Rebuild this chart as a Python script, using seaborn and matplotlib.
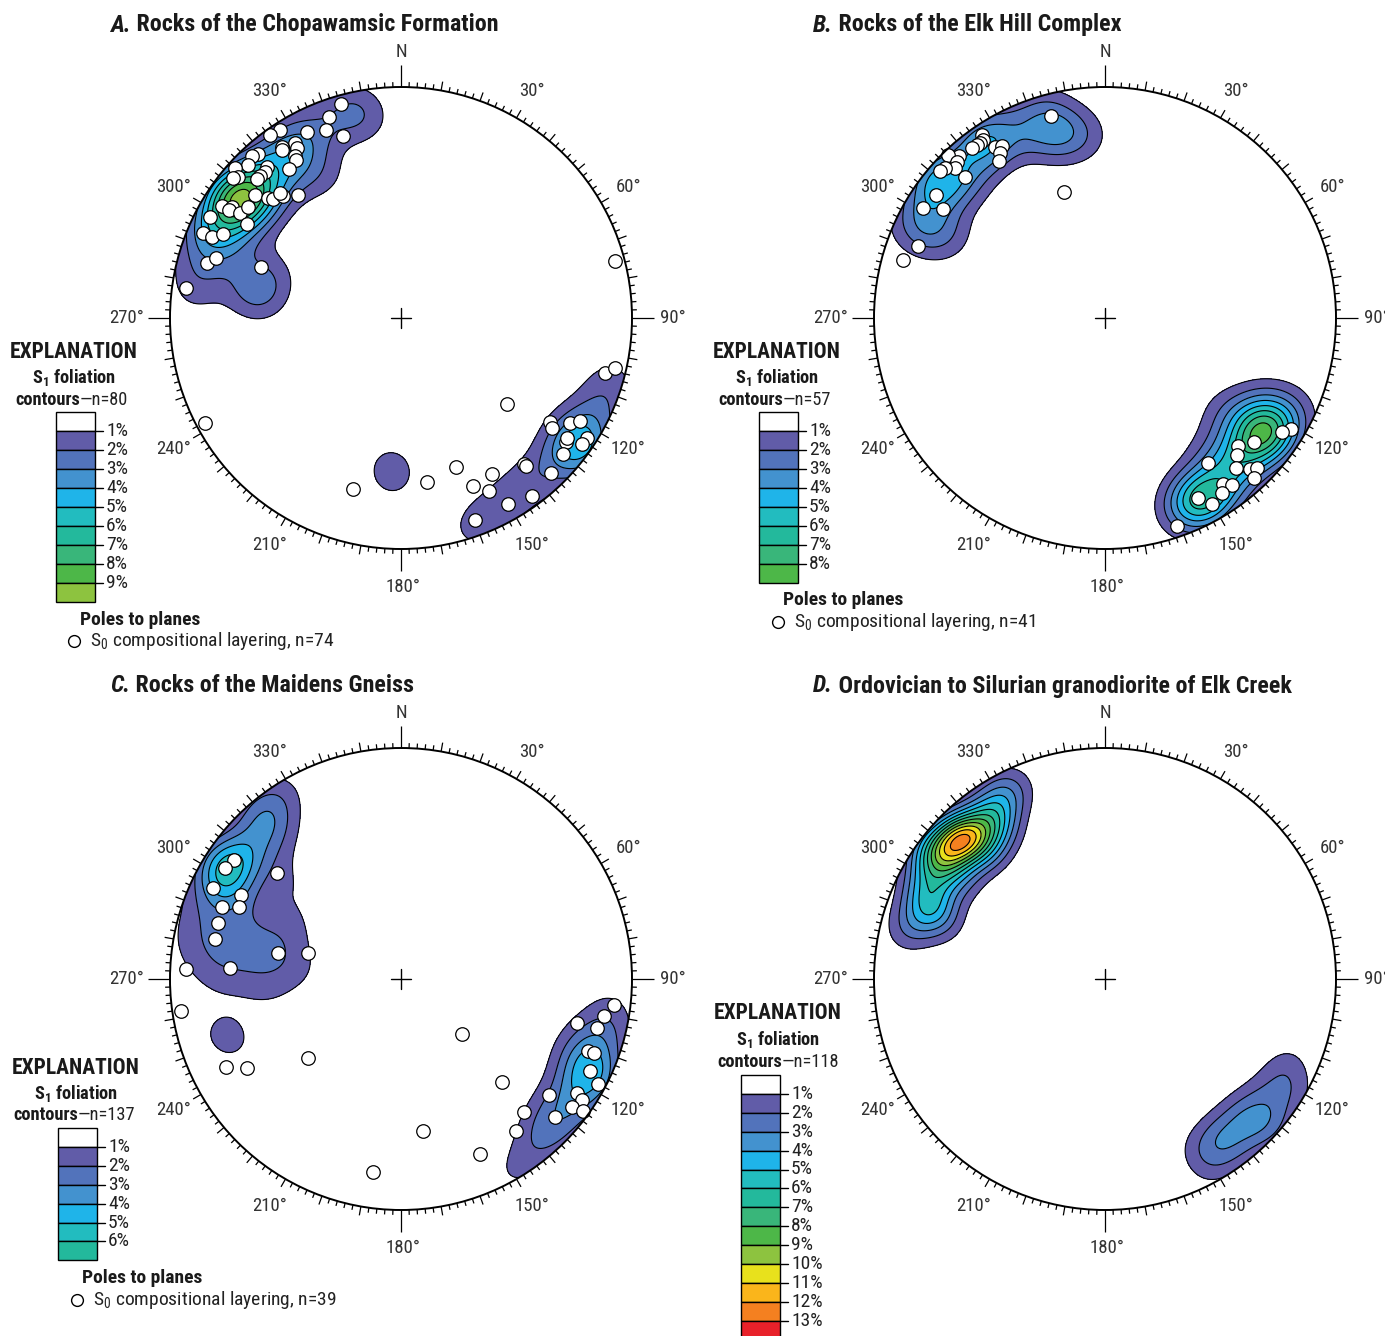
import numpy as np
import matplotlib
matplotlib.use("Agg")
import matplotlib.pyplot as plt
from matplotlib.patches import Circle, Rectangle
from matplotlib.collections import LineCollection
import seaborn as sns
import pandas as pd

sns.set_theme(style="white")
FAM = ['Roboto Condensed', 'Roboto', 'DejaVu Sans']
plt.rcParams['font.family'] = FAM
plt.rcParams['mathtext.fontset'] = 'custom'
plt.rcParams['mathtext.rm'] = 'Roboto Condensed'
plt.rcParams['mathtext.bf'] = 'Roboto Condensed:bold'
plt.rcParams['mathtext.it'] = 'Roboto Condensed:italic'

# ---------------- DATA (net coordinates, unit radius, lower hemisphere) -------------
# S1 foliation poles, binned: x, y, count
a_s1_x = [-0.892, -0.879, -0.848, -0.805, -0.749, -0.706, -0.654, -0.589, -0.515, -0.437, -0.351, -0.242, -0.200,
          -0.150, -0.610, -0.524, -0.416, -0.697, -0.740, -0.780, -0.860, -0.330,
          -0.632, -0.660, -0.590, -0.560,
          0.299, 0.380, 0.460, 0.540, 0.620, 0.700, 0.780, 0.720, 0.800, 0.760, 0.840, 0.880, 0.920,
          -0.050, -0.030]
a_s1_y = [0.108, 0.199, 0.294, 0.381, 0.468, 0.524, 0.576, 0.641, 0.706, 0.771, 0.823, 0.892, 0.900,
          0.860, 0.489, 0.576, 0.641, 0.381, 0.273, 0.520, 0.380, 0.620,
          0.113, 0.130, 0.100, 0.200,
          -0.918, -0.860, -0.790, -0.720, -0.660, -0.600, -0.550, -0.500, -0.480, -0.600, -0.420, -0.340, -0.260,
          -0.630, -0.700]
a_s1_n = [1, 1, 1, 2, 3, 5, 3, 2, 2, 2, 1, 1, 1,
          1, 2, 1, 1, 1, 1, 1, 1, 1,
          1, 1, 1, 1,
          1, 1, 1, 1, 1, 1, 3, 1, 1, 1, 1, 1, 1,
          1, 1]

b_s1_x = [-0.830, -0.780, -0.720, -0.630, -0.520, -0.420, -0.320, -0.200, -0.090, -0.760, -0.600, -0.260, -0.680,
          0.700, 0.640, 0.760, 0.620, 0.580, 0.540, 0.480, 0.400, 0.330, 0.460, 0.520, 0.680, 0.800]
b_s1_y = [0.400, 0.500, 0.590, 0.670, 0.750, 0.820, 0.800, 0.800, 0.790, 0.380, 0.580, 0.900, 0.360,
          -0.500, -0.550, -0.460, -0.440, -0.620, -0.700, -0.750, -0.790, -0.840, -0.600, -0.420, -0.380, -0.400]
b_s1_n = [1, 1, 3, 1, 3, 1, 1, 2, 1, 1, 1, 1, 1,
          4, 2, 1, 1, 2, 1, 2, 4, 1, 1, 1, 1, 1]

c_s1_x = [-0.762, -0.697, -0.805, -0.719, -0.650, -0.590, -0.600, -0.520, -0.520, -0.560,
          -0.880, -0.780, -0.680, -0.920, -0.820, -0.720, -0.620, -0.520, -0.900, -0.800, -0.700, -0.600, -0.500,
          -0.820, -0.720, -0.620, -0.500, -0.420, -0.450, -0.450, -0.550, -0.580,
          -0.800, -0.740, -0.720,
          0.840, 0.800, 0.860, 0.900, 0.910, 0.780, 0.720, 0.660, 0.590, 0.520, 0.460, 0.720, 0.740, 0.800,
          0.660, 0.600]
c_s1_y = [0.494, 0.515, 0.407, 0.385, 0.600, 0.680, 0.720, 0.800, 0.650, 0.560,
          0.300, 0.300, 0.300, 0.200, 0.200, 0.200, 0.200, 0.200, 0.100, 0.100, 0.120, 0.120, 0.120,
          0.000, 0.020, 0.020, 0.020, 0.050, 0.250, 0.400, 0.450, -0.060,
          -0.220, -0.240, -0.290,
          -0.420, -0.360, -0.300, -0.200, -0.100, -0.500, -0.580, -0.650, -0.720, -0.800, -0.860, -0.420, -0.300,
          -0.220, -0.520, -0.600]
c_s1_n = [6, 3, 3, 2, 2, 2, 2, 2, 1, 1,
          1, 1, 1, 1, 1, 1, 1, 1, 1, 1, 1, 1, 1,
          1, 1, 1, 1, 1, 1, 1, 1, 1,
          1, 1, 1,
          4, 3, 2, 2, 1, 3, 2, 2, 2, 1, 1, 1, 1, 1,
          1, 1]

d_s1_x = [-0.615, -0.671, -0.541, -0.693, -0.476, -0.433, -0.390, -0.758, -0.779, -0.736, -0.823, -0.866, -0.628,
          -0.519, -0.455, -0.758, -0.693,
          0.400, 0.470, 0.540, 0.610, 0.680, 0.750, 0.800, 0.450, 0.530, 0.610, 0.680, 0.750, 0.820,
          0.511, 0.615, 0.720]
d_s1_y = [0.610, 0.580, 0.667, 0.515, 0.732, 0.797, 0.840, 0.450, 0.364, 0.299, 0.255, 0.190, 0.429,
          0.558, 0.645, 0.558, 0.234,
          -0.740, -0.680, -0.620, -0.560, -0.500, -0.430, -0.360, -0.820, -0.760, -0.700, -0.630, -0.560, -0.480,
          -0.697, -0.610, -0.640]
d_s1_n = [9, 4, 4, 4, 3, 2, 1, 3, 3, 3, 2, 1, 2,
          3, 2, 3, 1,
          1, 1, 1, 1, 1, 1, 1, 1, 1, 1, 1, 1, 1,
          1, 1, 1]

# S0 compositional layering poles: x, y
a_s0_x = [-0.261, -0.312, -0.325, -0.252, -0.408, -0.524, -0.567, -0.459, -0.452, -0.516, -0.516, -0.618, -0.646,
          -0.459, -0.456, -0.581, -0.589, -0.661, -0.719, -0.484, -0.610, -0.625, -0.704, -0.726, -0.632, -0.574,
          -0.553, -0.510, -0.445, -0.524, -0.776, -0.733, -0.743, -0.697, -0.661, -0.827, -0.668, -0.856, -0.819,
          -0.772, -0.841, -0.802, -0.607, -0.931,
          0.883, 0.926, 0.458, 0.645, 0.652, 0.732, 0.775, 0.713, 0.717, 0.806, 0.785, 0.700, 0.534, 0.541,
          0.649, 0.238, 0.393, 0.111, 0.313, 0.382, 0.566, 0.464, 0.320, -0.208, -0.848, 0.926]
a_s0_y = [0.926, 0.871, 0.814, 0.789, 0.807, 0.814, 0.792, 0.759, 0.735, 0.742, 0.727, 0.710, 0.701,
          0.701, 0.684, 0.652, 0.633, 0.662, 0.648, 0.645, 0.615, 0.600, 0.609, 0.605, 0.532, 0.518,
          0.515, 0.528, 0.532, 0.540, 0.485, 0.479, 0.468, 0.453, 0.482, 0.439, 0.407, 0.367, 0.352,
          0.364, 0.239, 0.260, 0.222, 0.129,
          -0.237, -0.218, -0.372, -0.449, -0.477, -0.456, -0.446, -0.535, -0.521, -0.521, -0.547, -0.590, -0.632,
          -0.641, -0.672, -0.644, -0.677, -0.709, -0.727, -0.748, -0.771, -0.805, -0.874, -0.740, -0.455, 0.247]

b_s0_x = [-0.235, -0.177, -0.534, -0.527, -0.541, -0.555, -0.577, -0.476, -0.447, -0.455, -0.458, -0.632, -0.678,
          -0.642, -0.649, -0.693, -0.714, -0.606, -0.732, -0.787, -0.703, -0.811, -0.873,
          0.804, 0.765, 0.645, 0.577, 0.570, 0.447, 0.567, 0.628, 0.657, 0.646, 0.512, 0.548, 0.505, 0.404,
          0.462, 0.310]
b_s0_y = [0.876, 0.544, 0.792, 0.771, 0.756, 0.749, 0.735, 0.742, 0.745, 0.713, 0.680, 0.701, 0.706,
          0.677, 0.648, 0.648, 0.638, 0.612, 0.532, 0.475, 0.471, 0.313, 0.251,
          -0.482, -0.492, -0.537, -0.554, -0.593, -0.626, -0.651, -0.655, -0.651, -0.694, -0.719, -0.724, -0.756,
          -0.781, -0.805, -0.900]

c_s0_x = [-0.723, -0.762, -0.813, -0.538, -0.693, -0.700, -0.776, -0.791, -0.805, -0.531, -0.401, -0.740, -0.931,
          -0.952, -0.758, -0.667, -0.403, 0.264, 0.437, 0.534, 0.498, 0.342, 0.095, -0.121,
          0.922, 0.880, 0.761, 0.847, 0.808, 0.837, 0.818, 0.854, 0.642, 0.761, 0.782, 0.739, 0.789, 0.667]
c_s0_y = [0.515, 0.479, 0.395, 0.458, 0.364, 0.313, 0.313, 0.241, 0.172, 0.114, 0.114, 0.046, 0.042,
          -0.139, -0.381, -0.385, -0.342, -0.238, -0.446, -0.574, -0.658, -0.758, -0.658, -0.835,
          -0.113, -0.160, -0.192, -0.211, -0.312, -0.322, -0.398, -0.456, -0.502, -0.495, -0.524, -0.553, -0.570,
          -0.596]

# Colour scale for contour intervals 1-2 %, 2-3 %, ... 13 %+
level_colors = ['#615ca8', '#5273bb', '#4392cf', '#1fb4e9', '#22bcbf', '#23b99c', '#39b67a',
                '#4db748', '#8dc33f', '#e8e11c', '#fab51b', '#f48020', '#e8212a']

titles = [("A.", "Rocks of the Chopawamsic Formation"),
          ("B.", "Rocks of the Elk Hill Complex"),
          ("C.", "Rocks of the Maidens Gneiss"),
          ("D.", "Ordovician to Silurian granodiorite of Elk Creek")]
s1_totals = [80, 57, 137, 118]
s0_totals = [74, 41, 39, None]
max_levels = [9, 8, 6, 13]
sigmas = [0.09, 0.09, 0.085, 0.075]

# ---------------- FIGURE -------------
W, H = 1385, 1336
DPI = 100
R = 231.0
fig = plt.figure(figsize=(W / DPI, H / DPI), dpi=DPI)
fig.patch.set_facecolor('white')

panels = [  # pixel box (x0, y0, x1, y1) and net centre (cx, cy)
    (0, 0, 692, 668, 401, 318),
    (692, 0, 1385, 668, 1105, 318),
    (0, 668, 692, 1336, 401, 979),
    (692, 668, 1385, 1336, 1105, 979),
]

s1_data = [(a_s1_x, a_s1_y, a_s1_n), (b_s1_x, b_s1_y, b_s1_n), (c_s1_x, c_s1_y, c_s1_n), (d_s1_x, d_s1_y, d_s1_n)]
s0_data = [(a_s0_x, a_s0_y), (b_s0_x, b_s0_y), (c_s0_x, c_s0_y), None]

g = np.linspace(-1.02, 1.02, 409)
GX, GY = np.meshgrid(g, g)


def density_percent(xs, ys, ns, ntot, sig):
    D = np.zeros_like(GX)
    for x, y, c in zip(xs, ys, ns):
        D += c * np.exp(-((GX - x) ** 2 + (GY - y) ** 2) / (2 * sig ** 2))
    return D * (100.0 / ntot) * 0.005 / sig ** 2


LBL = dict(fontsize=13.5, color='#333333')


def draw_net(ax):
    ax.add_patch(Circle((0, 0), 1, fill=False, lw=1.4, edgecolor='black', zorder=6))
    segs = []
    for a in range(0, 360, 2):
        t = np.deg2rad(a)
        if a % 90 == 0:
            L = 22
        elif a % 10 == 0:
            L = 9
        else:
            L = 5
        r2 = 1 + L / R
        segs.append([(np.sin(t), np.cos(t)), (r2 * np.sin(t), r2 * np.cos(t))])
    ax.add_collection(LineCollection(segs, colors='black', linewidths=0.9, zorder=6))
    ax.plot([-10 / R, 10 / R], [0, 0], color='black', lw=1.0, zorder=6)
    ax.plot([0, 0], [-10 / R, 10 / R], color='black', lw=1.0, zorder=6)
    for a in [30, 60, 120, 150, 210, 240, 300, 330]:
        t = np.deg2rad(a)
        ax.text(1.135 * np.sin(t), 1.135 * np.cos(t), f"{a}°", ha='center', va='center', **LBL)
    ax.text(0, 1.152, "N", ha='center', va='center', **LBL)
    ax.text(0.01, -1.165, "180°", ha='center', va='center', **LBL)
    ax.text(-1.19, 0, "270°", ha='center', va='center', **LBL)
    ax.text(1.177, 0, "90°", ha='center', va='center', **LBL)


for i, (x0, y0, x1, y1, cx, cy) in enumerate(panels):
    ax = fig.add_axes([x0 / W, 1 - y1 / H, (x1 - x0) / W, (y1 - y0) / H])
    ax.set_facecolor('none')
    xs, ys, ns = s1_data[i]
    D = density_percent(xs, ys, ns, s1_totals[i], sigmas[i])
    nl = max_levels[i]
    levels = list(range(1, nl + 1)) + [1000]
    clip = Circle((0, 0), 1, transform=ax.transData)
    cf = ax.contourf(GX, GY, D, levels=levels, colors=level_colors[:nl], zorder=2)
    cf.set_clip_path(clip)
    cl = ax.contour(GX, GY, D, levels=levels[:-1], colors='black', linewidths=0.8, zorder=3)
    cl.set_clip_path(clip)
    if s0_data[i] is not None:
        df = pd.DataFrame({"x": s0_data[i][0], "y": s0_data[i][1]})
        sns.scatterplot(data=df, x="x", y="y", ax=ax, s=95, color='white', edgecolor='black',
                        linewidth=0.9, zorder=5, legend=False)
    draw_net(ax)
    ax.set_xlim((x0 - cx) / R, (x1 - cx) / R)
    ax.set_ylim((cy - y1) / R, (cy - y0) / R)
    ax.set_axis_off()

# ---------------- overlay for titles and explanations -------------
ov = fig.add_axes([0, 0, 1, 1], zorder=20)
ov.set_xlim(0, W)
ov.set_ylim(H, 0)
ov.set_axis_off()
ov.patch.set_alpha(0)

TXT = '#1a1a1a'
title_pos = [(110, 25), (813, 25), (110, 686), (813, 686)]
for (x, y), (p1, p2) in zip(title_pos, titles):
    t1 = ov.text(x, y, p1, ha='left', va='center', fontsize=17.3, fontweight='bold', fontstyle='italic', color=TXT)
    ov.annotate(" " + p2, xy=(1, 0), xycoords=t1, ha='left', va='bottom', fontsize=17.3, fontweight='bold',
                color=TXT)

legends = [
    dict(cx=74, ye=352, ys=378, yc=400, split=80, bx=56, by=412, seg=19.0, yp=620, pcx=140, y0=641, mx=74),
    dict(cx=777, ye=352, ys=378, yc=400, split=783, bx=759, by=412, seg=19.0, yp=600, pcx=843, y0=622, mx=778),
    dict(cx=76, ye=1068, ys=1094, yc=1115, split=78, bx=58, by=1128, seg=18.9, yp=1278, pcx=142, y0=1300, mx=77),
    dict(cx=778, ye=1013, ys=1040, yc=1062, split=782, bx=741, by=1075, seg=18.9, yp=None, pcx=None, y0=None,
         mx=None),
]
for i, L in enumerate(legends):
    ov.text(L['cx'], L['ye'], "EXPLANATION", ha='center', va='center', fontsize=15.5, fontweight='bold', color=TXT)
    ov.text(L['cx'], L['ys'], r"$\mathbf{S}_\mathbf{1}$ foliation", ha='center', va='center', fontsize=13.2,
            fontweight='bold', color=TXT)
    t1 = ov.text(L['split'], L['yc'], "contours", ha='right', va='center', fontsize=13.2, fontweight='bold',
                 color=TXT)
    ov.annotate(f"—n={s1_totals[i]}", xy=(1, 0), xycoords=t1, ha='left', va='bottom', fontsize=13.2,
                color='#222222')
    nl = max_levels[i]
    w = 39
    for k in range(nl + 1):
        col = 'white' if k == 0 else level_colors[k - 1]
        ov.add_patch(Rectangle((L['bx'], L['by'] + k * L['seg']), w, L['seg'], facecolor=col,
                               edgecolor='black', lw=1.0))
    for k in range(1, nl + 1):
        yy = L['by'] + k * L['seg']
        ov.plot([L['bx'] + w, L['bx'] + w + 8], [yy, yy], color='black', lw=1.0)
        ov.text(L['bx'] + w + 11, yy, f"{k}%", ha='left', va='center', fontsize=14, color='#222222')
    if L['yp'] is not None:
        ov.text(L['pcx'], L['yp'], "Poles to planes", ha='center', va='center', fontsize=14, fontweight='bold',
                color=TXT)
        ov.plot([L['mx']], [L['y0']], 'o', mfc='white', mec='black', ms=8.5, mew=1.0)
        ov.text(L['mx'] + 16, L['y0'], f"S$_0$ compositional layering, n={s0_totals[i]}", ha='left',
                va='center', fontsize=14, color='#222222')

fig.savefig("out.png", dpi=DPI, facecolor='white')
